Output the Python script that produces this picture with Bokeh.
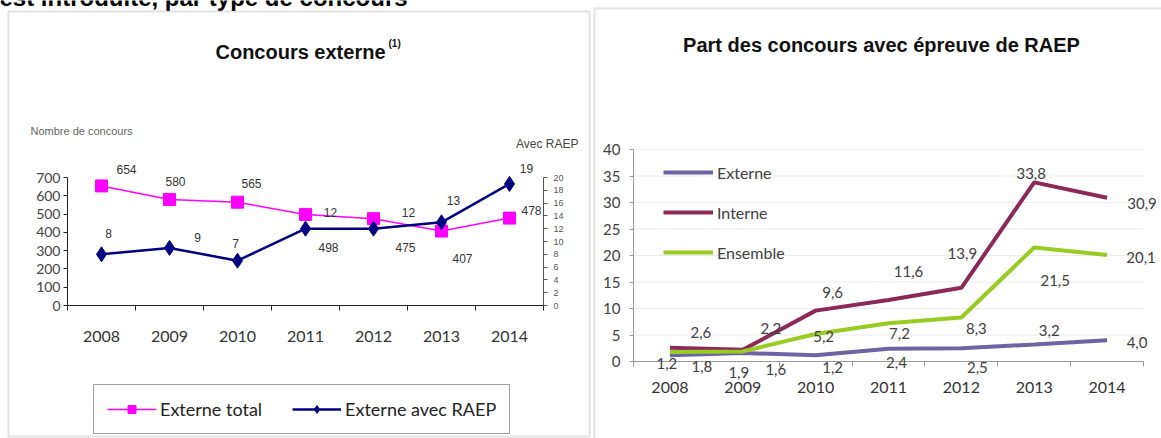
from bokeh.plotting import figure
from bokeh.models import (Range1d, LinearAxis, FixedTicker, Legend, LegendItem,
                          Label, LabelSet, BoxAnnotation, ColumnDataSource, CustomJSTickFormatter)
from bokeh.core.properties import value
from bokeh.layouts import row
from bokeh.embed import file_html
from bokeh.resources import INLINE

# ---------------- data ----------------
years = ["2008", "2009", "2010", "2011", "2012", "2013", "2014"]
externe_total = [654, 580, 565, 498, 475, 407, 478]
externe_raep = [8, 9, 7, 12, 12, 13, 19]
part_externe = [1.2, 1.6, 1.2, 2.4, 2.5, 3.2, 4.0]
part_interne = [2.6, 2.2, 9.6, 11.6, 13.9, 33.8, 30.9]
part_ensemble = [1.8, 1.9, 5.2, 7.2, 8.3, 21.5, 20.1]
ticks_total = [0, 100, 200, 300, 400, 500, 600, 700]
ticks_raep = [0, 2, 4, 6, 8, 10, 12, 14, 16, 18, 20]
ticks_part = [0, 5, 10, 15, 20, 25, 30, 35, 40]

# ---------------- layout constants (pixels) ----------------
W1, W2, H = 591, 570, 438
# left chart plot area: x 0..7 -> 67..543, y 0..700 -> 305..177
# right chart plot area (canvas of right figure): x 0..7 -> 42..552, y 0..40 -> 361..149
# label offsets in pixels (dx right, dy down)
off_total = [(25, -16), (6, -18), (14, -19), (23, 33), (32, 29), (21, 27), (22, -8)]
off_raep = [(7, -21), (28, -10), (-2, -17), (25, -16), (35, -16), (12, -22), (17, -15)]
off_ext = [(-3, 8), (33, 16), (17, 12), (8, 14), (16, 19), (15, -14), (30, 2)]
off_int = [(31, -15), (28, -21), (17, -18), (20, -29), (1, -34), (-3, -9), (35, 6)]
off_ens = [(32, 15), (-4, 21), (8, 3), (11, 10), (15, 11), (21, 33), (34, 3)]

n = len(years)
xs = [i + 0.5 for i in range(n)]

CAL = "Lato"
ARI = "Liberation Sans"


def rng(d0, d1, p0, p1, c0, c1):
    k = (p1 - p0) / (d1 - d0)
    return d0 + (c0 - p0) / k, d0 + (c1 - p0) / k


def fr(v):
    return ("%.1f" % v).replace(".", ",")


def src(vals, offs, fmt=str):
    return ColumnDataSource(dict(x=xs, y=vals, t=[fmt(v) for v in vals],
                                 dx=[o[0] for o in offs], dy=[-o[1] for o in offs]))


def cat_axis(ax, standoff, color):
    ax.fixed_location = 0
    ax.bounds = (0, n)
    ax.ticker = FixedTicker(ticks=xs, minor_ticks=list(range(n + 1)))
    ax.formatter = CustomJSTickFormatter(args=dict(labels=years),
                                         code="const i = Math.floor(tick); return (i >= 0 && i < labels.length) ? labels[i] : '';")
    ax.axis_line_color = color
    ax.major_tick_line_color = None
    ax.major_tick_out = 0
    ax.major_tick_in = 0
    ax.minor_tick_line_color = color
    ax.minor_tick_out = 5
    ax.minor_tick_in = 0
    ax.major_label_standoff = standoff
    ax.major_label_text_font = CAL
    ax.major_label_text_font_size = "16px"
    ax.major_label_text_color = "#333333"


def val_axis(ax, ticks, loc, color, font, size, standoff, lcolor):
    ax.fixed_location = loc
    ax.bounds = (ticks[0], ticks[-1])
    ax.ticker = FixedTicker(ticks=ticks)
    ax.axis_line_color = color
    ax.major_tick_line_color = color
    ax.major_tick_out = 4
    ax.major_tick_in = 0
    ax.minor_tick_line_color = None
    ax.major_label_standoff = standoff
    ax.major_label_text_font = font
    ax.major_label_text_font_size = size
    ax.major_label_text_color = lcolor


def canvas_label(p, x, y, text, align="left", size="12px", font=ARI, bold=False, color="#333333",
                 baseline="middle"):
    p.add_layout(Label(x=x, y=y, x_units="canvas", y_units="canvas", text=text,
                       text_align=align, text_baseline=baseline, text_font=font,
                       text_font_style="bold" if bold else "normal",
                       text_font_size=size, text_color=color))


# ---------------- left chart ----------------
p1 = figure(width=W1, height=H, output_backend="svg", toolbar_location=None,
            x_range=Range1d(*rng(0, n, 67, 543, 0, W1)),
            y_range=Range1d(*rng(0, ticks_total[-1], 305, 177, H, 0)), min_border=0)
p1.outline_line_color = None
p1.grid.visible = False
cat_axis(p1.xaxis[0], 20, "#222222")
val_axis(p1.yaxis[0], ticks_total, 0, "#222222", CAL, "14px", 3, "#444444")

p1.extra_y_ranges = {"raep": Range1d(*rng(0, ticks_raep[-1], 305, 177, H, 0))}
ra = LinearAxis(y_range_name="raep")
p1.add_layout(ra, "right")
val_axis(ra, ticks_raep, n, "#555555", ARI, "9px", 6, "#555555")

s_tot = src(externe_total, off_total)
s_raep = src(externe_raep, off_raep)
r_tl = p1.line("x", "y", source=s_tot, line_color="#ff00ff", line_width=1.5)
r_ts = p1.scatter("x", "y", source=s_tot, marker="square", size=12,
                  fill_color="#ff00ff", line_color="#ff00ff")
r_rl = p1.line("x", "y", source=s_raep, line_color="#000080", line_width=2.5, y_range_name="raep")
r_rs = p1.scatter("x", "y", source=s_raep, marker="diamond", size=15,
                  fill_color="#000080", line_color="#000080", y_range_name="raep")

for s, rn in ((s_tot, "default"), (s_raep, "raep")):
    p1.add_layout(LabelSet(x="x", y="y", text="t", x_offset="dx", y_offset="dy", source=s,
                           y_range_name=rn, text_align="center", text_baseline="middle",
                           text_font=value(ARI), text_font_size="12px", text_color="#333333"))

leg1 = Legend(items=[LegendItem(label="Externe total", renderers=[r_tl, r_ts]),
                     LegendItem(label="Externe avec RAEP", renderers=[r_rl, r_rs])],
              orientation="horizontal", location=(93, 4),
              border_line_color="#404040", border_line_width=1,
              background_fill_color="white", background_fill_alpha=1,
              padding=13, spacing=30, glyph_width=49, glyph_height=20, label_height=20,
              label_standoff=4, margin=0,
              label_text_font=CAL, label_text_font_size="18px", label_text_color="#222222")
p1.add_layout(leg1)

canvas_label(p1, 300, 51, "Concours externe", align="center", size="20px", bold=True, color="#111111")
canvas_label(p1, 388, 43, "(1)", size="10px", bold=True, color="#111111")
canvas_label(p1, 30, 130, "Nombre de concours", size="11px", color="#666666")
canvas_label(p1, 578, 143, "Avec RAEP", align="right", size="12px", color="#444444")
canvas_label(p1, -1, -3, "est introduite, par type de concours", size="24px", bold=True,
             color="#000000", baseline="alphabetic")
p1.add_layout(BoxAnnotation(left=8, right=589, top=11, bottom=436,
                            left_units="canvas", right_units="canvas", top_units="canvas",
                            bottom_units="canvas", fill_color=None, fill_alpha=0,
                            line_color="#a0a0a0", line_width=2))

# ---------------- right chart ----------------
p2 = figure(width=W2, height=H, output_backend="svg", toolbar_location=None,
            x_range=Range1d(*rng(0, n, 42, 552, 0, W2)),
            y_range=Range1d(*rng(0, ticks_part[-1], 361, 149, H, 0)), min_border=0)
p2.outline_line_color = None
p2.grid.visible = False
p2.segment(x0=0, x1=n, y0=ticks_part[1:], y1=ticks_part[1:], line_color="#ebebeb", line_width=1)
cat_axis(p2.xaxis[0], 15, "#9a9a9a")
val_axis(p2.yaxis[0], ticks_part, 0, "#9a9a9a", CAL, "15px", 9, "#404040")

s_ext = src(part_externe, off_ext, fr)
s_int = src(part_interne, off_int, fr)
s_ens = src(part_ensemble, off_ens, fr)
r_ext = p2.line("x", "y", source=s_ext, line_color="#6f64a3", line_width=4)
r_int = p2.line("x", "y", source=s_int, line_color="#8b2a57", line_width=4)
r_ens = p2.line("x", "y", source=s_ens, line_color="#99cc22", line_width=4)
for s in (s_ext, s_int, s_ens):
    p2.add_layout(LabelSet(x="x", y="y", text="t", x_offset="dx", y_offset="dy", source=s,
                           text_align="center", text_baseline="middle",
                           text_font=value(CAL), text_font_size="15px", text_color="#404040"))

leg2 = Legend(items=[LegendItem(label="Externe", renderers=[r_ext]),
                     LegendItem(label="Interne", renderers=[r_int]),
                     LegendItem(label="Ensemble", renderers=[r_ens])],
              orientation="vertical", location=(72, 176),
              border_line_color=None, background_fill_alpha=0,
              padding=0, spacing=20, glyph_width=50, glyph_height=20, label_height=20,
              label_standoff=4, margin=0,
              label_text_font=CAL, label_text_font_size="16px", label_text_color="#404040")
p2.add_layout(leg2)

canvas_label(p2, 290, 44, "Part des concours avec épreuve de RAEP", align="center", size="20px",
             bold=True, color="#111111")
p2.add_layout(BoxAnnotation(left=3, right=620, top=8, bottom=480,
                            left_units="canvas", right_units="canvas", top_units="canvas",
                            bottom_units="canvas", fill_color=None, fill_alpha=0,
                            line_color="#a0a0a0", line_width=2))

layout = row(p1, p2, spacing=0)
open("out.html", "w").write(file_html(layout, INLINE))
